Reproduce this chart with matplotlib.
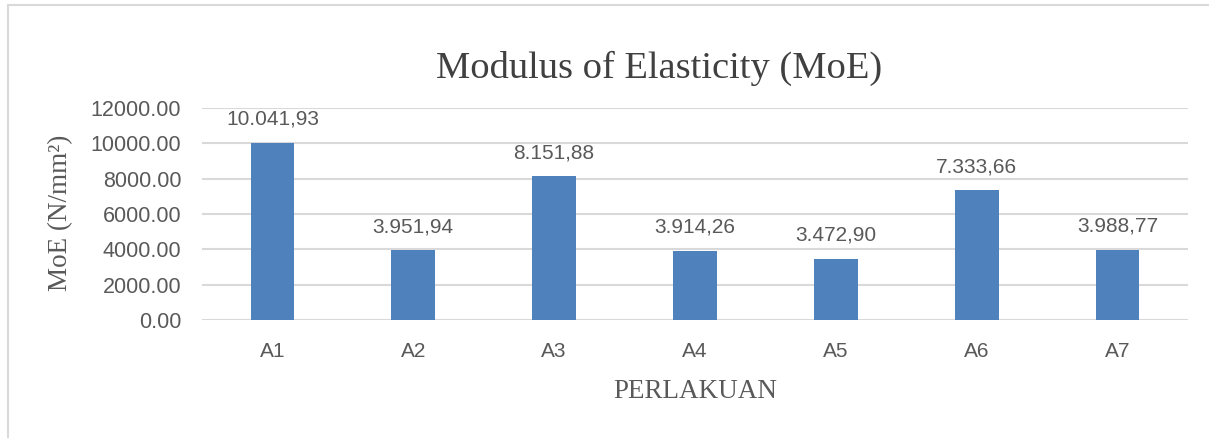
import matplotlib.pyplot as plt
from matplotlib.lines import Line2D

# Data
categories = ["A1", "A2", "A3", "A4", "A5", "A6", "A7"]
moe = [10041.93, 3951.94, 8151.88, 3914.26, 3472.90, 7333.66, 3988.77]
labels = ["10.041,93", "3.951,94", "8.151,88", "3.914,26", "3.472,90", "7.333,66", "3.988,77"]
yticks = [0, 2000, 4000, 6000, 8000, 10000, 12000]

text_col = "#595959"
grid_col = "#D9D9D9"
bar_col = "#4F81BD"
sans = "Liberation Sans"
serif = "Liberation Serif"

W, H = 1209, 438
fig = plt.figure(figsize=(W / 100, H / 100), dpi=100)
ax = fig.add_axes([202/W, 1 - 320/H, (1188-202)/W, (320-108)/H])

x = range(len(categories))
ax.bar(x, moe, width=0.31, color=bar_col, zorder=3)
for i, v in enumerate(moe):
    ax.annotate(labels[i], (i, v), xytext=(0, 10), textcoords="offset points",
                ha="center", va="bottom", fontsize=15, color=text_col, family=sans)

ax.set_xlim(-0.5, len(categories) - 0.5)
ax.set_ylim(0, 12000)
ax.set_yticks(yticks)
ax.set_yticklabels([f"{t:.2f}" for t in yticks], fontsize=15.5, color=text_col, family=sans)
ax.set_xticks(list(x))
ax.set_xticklabels(categories, fontsize=15, color=text_col, family=sans)
ax.tick_params(length=0, axis="y", pad=15)
ax.tick_params(length=0, axis="x", pad=16)
ax.grid(axis="y", color=grid_col, linewidth=1.5, zorder=0)
for s in ax.spines.values():
    s.set_visible(False)

fig.text(659/W, 1 - 78/H, "Modulus of Elasticity (MoE)", fontsize=27.7, color="#404040",
         family=serif, ha="center", va="baseline")
ax.set_xlabel("PERLAKUAN", fontsize=19.5, color=text_col, family=serif, labelpad=13)
fig.text(61/W, 1 - 213/H, "MoE (N/mm²)", fontsize=19.5, color=text_col, family=serif,
         rotation=90, ha="center", va="center")

# chart frame (top and left edges)
fig.add_artist(Line2D([8/W, 1], [1 - 5/H, 1 - 5/H], color=grid_col, lw=1.5))
fig.add_artist(Line2D([8/W, 8/W], [0, 1 - 5/H], color=grid_col, lw=1.5))

fig.savefig("out.png", dpi=100)
